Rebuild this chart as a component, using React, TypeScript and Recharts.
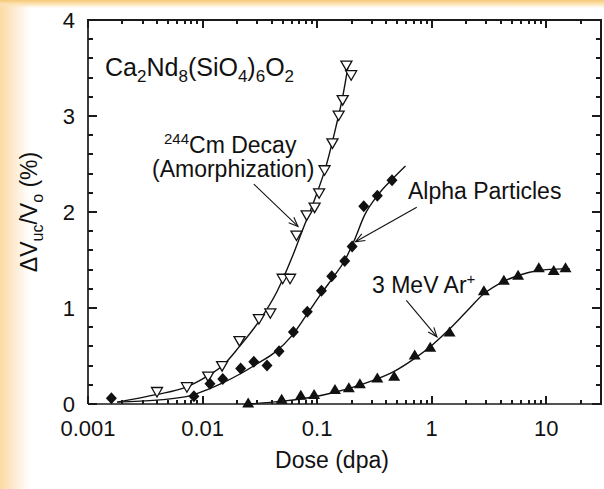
import { ComposedChart, Scatter, Line, XAxis, YAxis, ReferenceLine } from "recharts";

// measured points, 244Cm decay (open down triangles)
const cmDose = [0.004, 0.0073, 0.0112, 0.0148, 0.021, 0.031, 0.039, 0.05, 0.058, 0.066, 0.081, 0.095, 0.104, 0.116, 0.136, 0.154, 0.167, 0.18, 0.198];
const cmDv = [0.13, 0.18, 0.29, 0.4, 0.66, 0.89, 0.95, 1.31, 1.31, 1.76, 1.97, 2.05, 2.2, 2.44, 2.72, 3.01, 3.17, 3.53, 3.43];

// alpha particles (filled diamonds)
const alphaDose = [0.0016, 0.0084, 0.0116, 0.015, 0.0215, 0.028, 0.0365, 0.0465, 0.062, 0.082, 0.109, 0.134, 0.174, 0.202, 0.255, 0.335, 0.45];
const alphaDv = [0.06, 0.08, 0.21, 0.26, 0.37, 0.44, 0.4, 0.55, 0.75, 0.96, 1.18, 1.33, 1.49, 1.64, 2.06, 2.17, 2.33];

// 3 MeV Ar+ (filled up triangles)
const arDose = [0.025, 0.049, 0.072, 0.094, 0.143, 0.189, 0.236, 0.335, 0.47, 0.71, 0.97, 1.43, 2.85, 4.26, 5.67, 8.6, 11.6, 14.7];
const arDv = [0.01, 0.05, 0.09, 0.1, 0.15, 0.17, 0.21, 0.27, 0.29, 0.51, 0.59, 0.75, 1.18, 1.29, 1.34, 1.42, 1.39, 1.42];

// fitted curves
const cmFitDose = [0.0018, 0.004, 0.007, 0.011, 0.015, 0.021, 0.031, 0.045, 0.06, 0.075, 0.097, 0.119, 0.146, 0.167, 0.188];
const cmFitDv = [0.02, 0.1, 0.17, 0.29, 0.4, 0.6, 0.86, 1.18, 1.52, 1.82, 2.16, 2.47, 2.89, 3.2, 3.55];

const alphaFitDose = [0.0018, 0.004, 0.008, 0.011, 0.015, 0.021, 0.03, 0.043, 0.06, 0.08, 0.11, 0.14, 0.175, 0.21, 0.26, 0.34, 0.45, 0.59];
const alphaFitDv = [0.02, 0.04, 0.09, 0.15, 0.22, 0.31, 0.42, 0.54, 0.71, 0.92, 1.16, 1.33, 1.5, 1.7, 1.97, 2.18, 2.34, 2.48];

const arFitDose = [0.025, 0.05, 0.09, 0.14, 0.2, 0.3, 0.47, 0.7, 1.0, 1.4, 2.0, 2.8, 4.3, 7, 10, 16];
const arFitDv = [0.0, 0.03, 0.07, 0.12, 0.17, 0.24, 0.34, 0.47, 0.61, 0.77, 0.96, 1.14, 1.28, 1.37, 1.4, 1.41];

// ticks
const xMajor = [0.001, 0.01, 0.1, 1, 10];
const xMinor = [
  0.002, 0.003, 0.004, 0.005, 0.006, 0.007, 0.008, 0.009,
  0.02, 0.03, 0.04, 0.05, 0.06, 0.07, 0.08, 0.09,
  0.2, 0.3, 0.4, 0.5, 0.6, 0.7, 0.8, 0.9,
  2, 3, 4, 5, 6, 7, 8, 9, 20,
];
const yMajor = [0, 1, 2, 3, 4];
const yMinor = [0.2, 0.4, 0.6, 0.8, 1.2, 1.4, 1.6, 1.8, 2.2, 2.4, 2.6, 2.8, 3.2, 3.4, 3.6, 3.8];

// annotation arrows: [tail dose, tail dv, tip dose, tip dv]
const cmArrow = [0.028, 2.29, 0.068, 1.85];
const alphaArrow = [0.74, 2.05, 0.216, 1.69];
const arArrow = [0.6, 1.08, 1.11, 0.7];

const pts = (xs: number[], ys: number[]) => xs.map((x, i) => ({ x, y: ys[i] }));

const FONT = "'Liberation Sans', Arial, Helvetica, sans-serif";
const INK = "#111";
const FRAME = "#1a1a1a";
const X_MIN = 0.001;
const X_MAX = 30;
const Y_MIN = 0;
const Y_MAX = 4;

// chart geometry
const W = 604;
const H = 489;
const MARGIN = { top: 20, right: 3, bottom: 55, left: 28 };
const Y_AXIS_W = 60;
const X_AXIS_H = 30;
const PLOT = {
  left: MARGIN.left + Y_AXIS_W,
  right: W - MARGIN.right,
  top: MARGIN.top,
  bottom: H - MARGIN.bottom - X_AXIS_H,
};
// same mapping as the chart's log / linear axes, used for the mirrored frame ticks
const sx = (v: number) =>
  PLOT.left + ((Math.log10(v) - Math.log10(X_MIN)) / (Math.log10(X_MAX) - Math.log10(X_MIN))) * (PLOT.right - PLOT.left);
const sy = (v: number) => PLOT.bottom - ((v - Y_MIN) / (Y_MAX - Y_MIN)) * (PLOT.bottom - PLOT.top);

const DownTri = (p: any) => {
  const { cx, cy } = p;
  return (
    <polygon
      points={`${cx - 5.5},${cy - 4} ${cx + 5.5},${cy - 4} ${cx},${cy + 5.5}`}
      fill="#fff"
      stroke={INK}
      strokeWidth={1.3}
    />
  );
};

const Diamond = (p: any) => {
  const { cx, cy } = p;
  return <polygon points={`${cx},${cy - 6} ${cx + 5.5},${cy} ${cx},${cy + 6} ${cx - 5.5},${cy}`} fill={INK} />;
};

const UpTri = (p: any) => {
  const { cx, cy } = p;
  return <polygon points={`${cx},${cy - 5.5} ${cx + 6},${cy + 4.5} ${cx - 6},${cy + 4.5}`} fill={INK} />;
};

const Arrow = (p: any) => {
  const { x1, y1, x2, y2 } = p;
  const a = Math.atan2(y2 - y1, x2 - x1);
  const len = 10;
  const spread = 0.38;
  const ax = x2 - len * Math.cos(a - spread);
  const ay = y2 - len * Math.sin(a - spread);
  const bx = x2 - len * Math.cos(a + spread);
  const by = y2 - len * Math.sin(a + spread);
  return (
    <g stroke={INK} strokeWidth={1.1} fill="none">
      <line x1={x1} y1={y1} x2={x2} y2={y2} />
      <polyline points={`${ax},${ay} ${x2},${y2} ${bx},${by}`} />
    </g>
  );
};

const seg = (a: number[]) => [
  { x: a[0], y: a[1] },
  { x: a[2], y: a[3] },
];

// a thin dark bar (frame edge or tick mark) as a plain positioned div
const Bar = ({ x, y, w, h }: { x: number; y: number; w: number; h: number }) => (
  <div style={{ position: "absolute", left: x, top: y, width: w, height: h, background: FRAME }} />
);

function FrameTicks() {
  const t = 2;
  const bars: JSX.Element[] = [];
  bars.push(<Bar key="top" x={PLOT.left - 1} y={PLOT.top - 1} w={PLOT.right - PLOT.left + 2} h={t} />);
  bars.push(<Bar key="right" x={PLOT.right - 1} y={PLOT.top - 1} w={t} h={PLOT.bottom - PLOT.top + 2} />);
  const xt = (v: number, len: number) => {
    const x = Math.round(sx(v)) - 1;
    bars.push(<Bar key={`xb${v}`} x={x} y={PLOT.bottom - len} w={t} h={len} />);
    bars.push(<Bar key={`xt${v}`} x={x} y={PLOT.top} w={t} h={len} />);
  };
  const yt = (v: number, len: number) => {
    const y = Math.round(sy(v)) - 1;
    bars.push(<Bar key={`yl${v}`} x={PLOT.left} y={y} w={len} h={t} />);
    bars.push(<Bar key={`yr${v}`} x={PLOT.right - len} y={y} w={len} h={t} />);
  };
  xMajor.forEach((v) => xt(v, 8));
  xMinor.forEach((v) => xt(v, 4));
  yMajor.forEach((v) => yt(v, 9));
  yMinor.forEach((v) => yt(v, 5));
  return <>{bars}</>;
}

export default function App() {
  const axisStroke = { stroke: FRAME, strokeWidth: 1.7 };
  const ids = { xAxisId: "x", yAxisId: "y", isAnimationActive: false };
  return (
    <div
      style={{
        position: "absolute",
        left: 0,
        top: 0,
        width: W,
        height: H,
        background:
          "linear-gradient(to bottom, #f6c878 0px, #fbe3b4 4px, rgba(255,255,255,0) 8px), linear-gradient(to right, #fcd9a2 0px, #fde8cb 12px, #ffffff 30px)",
      }}
    >
      <ComposedChart width={W} height={H} margin={MARGIN}>
        <XAxis
          xAxisId="x"
          type="number"
          dataKey="x"
          scale="log"
          domain={[X_MIN, X_MAX]}
          ticks={xMajor}
          interval={0}
          tickFormatter={(v: number) => String(v)}
          tickLine={false}
          tickSize={6}
          tickMargin={10}
          axisLine={axisStroke}
          height={X_AXIS_H}
          tick={{ fontSize: 22, fill: INK, fontFamily: FONT }}
        />
        <YAxis
          yAxisId="y"
          type="number"
          dataKey="y"
          domain={[Y_MIN, Y_MAX]}
          ticks={yMajor}
          interval={0}
          tickLine={false}
          tickSize={6}
          tickMargin={7}
          axisLine={axisStroke}
          width={Y_AXIS_W}
          tick={{ fontSize: 22, fill: INK, fontFamily: FONT }}
        />

        <Line {...ids} data={pts(cmFitDose, cmFitDv)} dataKey="y" type="monotone" dot={false} stroke={INK} strokeWidth={1.4} />
        <Line {...ids} data={pts(alphaFitDose, alphaFitDv)} dataKey="y" type="monotone" dot={false} stroke={INK} strokeWidth={1.4} />
        <Line {...ids} data={pts(arFitDose, arFitDv)} dataKey="y" type="monotone" dot={false} stroke={INK} strokeWidth={1.4} />

        <Scatter {...ids} data={pts(cmDose, cmDv)} shape={DownTri} />
        <Scatter {...ids} data={pts(alphaDose, alphaDv)} shape={Diamond} />
        <Scatter {...ids} data={pts(arDose, arDv)} shape={UpTri} />

        <ReferenceLine xAxisId="x" yAxisId="y" segment={seg(cmArrow)} shape={Arrow} ifOverflow="visible" />
        <ReferenceLine xAxisId="x" yAxisId="y" segment={seg(alphaArrow)} shape={Arrow} ifOverflow="visible" />
        <ReferenceLine xAxisId="x" yAxisId="y" segment={seg(arArrow)} shape={Arrow} ifOverflow="visible" />
      </ComposedChart>

      <FrameTicks />

      <svg width={W} height={H} style={{ position: "absolute", left: 0, top: 0, pointerEvents: "none" }} fontFamily={FONT} fill={INK}>
        <text x={105} y={76} fontSize={25}>
          Ca<tspan dy={6} fontSize={17}>2</tspan>
          <tspan dy={-6}>Nd</tspan>
          <tspan dy={6} fontSize={17}>8</tspan>
          <tspan dy={-6}>(SiO</tspan>
          <tspan dy={6} fontSize={17}>4</tspan>
          <tspan dy={-6}>)</tspan>
          <tspan dy={6} fontSize={17}>6</tspan>
          <tspan dy={-6}>O</tspan>
          <tspan dy={6} fontSize={17}>2</tspan>
        </text>
        <text x={164} y={153} fontSize={23}>
          <tspan dy={-9} fontSize={15}>244</tspan>
          <tspan dy={9}>Cm Decay</tspan>
        </text>
        <text x={152} y={177} fontSize={23}>(Amorphization)</text>
        <text x={408} y={199} fontSize={23}>Alpha Particles</text>
        <text x={372} y={293} fontSize={23}>
          3 MeV Ar<tspan dy={-9} fontSize={15}>+</tspan>
        </text>
        <text x={332} y={468} fontSize={23} textAnchor="middle">Dose (dpa)</text>
        <text x={37} y={212} fontSize={23} textAnchor="middle" transform="rotate(-90 37 212)">
          ΔV<tspan dy={6} fontSize={16}>uc</tspan>
          <tspan dy={-6}>/V</tspan>
          <tspan dy={6} fontSize={16}>o</tspan>
          <tspan dy={-6}> (%)</tspan>
        </text>
      </svg>
    </div>
  );
}
